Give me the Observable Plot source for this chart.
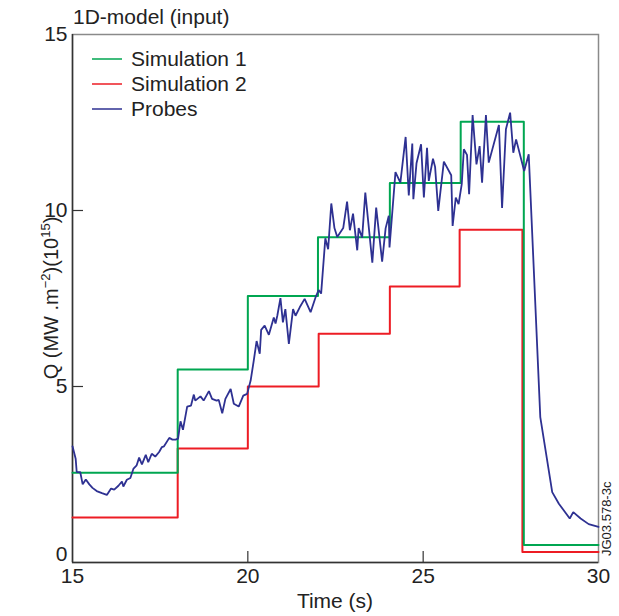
<!DOCTYPE html>
<html><head><meta charset="utf-8">
<script src="https://cdn.jsdelivr.net/npm/d3@7"></script>
<script src="https://cdn.jsdelivr.net/npm/@observablehq/plot@0.6"></script>
<style>body{margin:0;background:#fff}svg{display:block}</style>
</head><body><div id="chart"></div>
<script>
// ---- data ----
const sim1Times = [15, 18, 20, 22, 24.05, 26.07, 27.87, 30];
const sim1Values = [2.55, 5.48, 7.57, 9.24, 10.78, 12.52, 0.5, 0.5];
const sim2Times = [15, 18, 20, 22.02, 24.05, 26.04, 27.83, 30];
const sim2Values = [1.28, 3.24, 5.0, 6.5, 7.84, 9.45, 0.3, 0.3];
const probeTimes = [15.00,15.09,15.12,15.22,15.29,15.38,15.48,15.57,15.69,15.84,15.98,16.10,16.19,16.31,16.41,16.45,16.55,16.65,16.74,16.83,16.90,16.98,17.09,17.16,17.26,17.36,17.47,17.55,17.61,17.76,17.85,17.94,18.01,18.08,18.15,18.27,18.38,18.46,18.50,18.65,18.74,18.89,18.98,19.11,19.17,19.27,19.36,19.51,19.60,19.74,19.87,19.98,20.08,20.17,20.25,20.34,20.38,20.48,20.60,20.74,20.79,20.84,20.93,21.00,21.07,21.17,21.29,21.36,21.48,21.62,21.79,21.93,22.02,22.09,22.21,22.29,22.38,22.47,22.55,22.72,22.83,22.91,23.00,23.12,23.16,23.26,23.35,23.55,23.66,23.83,23.93,24.02,24.04,24.21,24.35,24.50,24.59,24.69,24.72,24.81,24.94,25.02,25.11,25.16,25.28,25.34,25.43,25.59,25.80,25.84,25.93,26.01,26.10,26.16,26.25,26.31,26.41,26.52,26.61,26.68,26.79,26.87,27.16,27.25,27.36,27.48,27.57,27.65,27.88,28.01,28.34,28.68,28.87,29.18,29.28,29.49,29.72,30.00];
const probeValues = [3.30,2.95,2.57,2.57,2.22,2.36,2.22,2.12,2.03,1.97,1.92,2.10,2.07,2.18,2.30,2.16,2.35,2.40,2.67,2.76,2.98,2.79,3.06,2.85,3.09,3.01,3.14,3.28,3.30,3.54,3.49,3.49,3.52,4.01,3.77,4.43,4.46,4.77,4.60,4.72,4.60,4.87,4.65,4.60,4.62,4.24,4.65,4.93,4.51,4.43,4.74,4.79,5.17,5.74,6.29,5.93,6.61,6.73,6.47,6.96,6.79,7.01,7.51,6.82,7.20,6.21,7.20,7.01,7.25,7.49,7.11,7.53,7.74,7.64,9.21,8.90,10.20,9.50,9.25,9.50,10.25,9.44,9.91,8.87,9.50,9.23,10.51,8.52,10.08,8.55,9.50,9.85,8.95,11.09,10.79,12.09,10.43,11.90,10.32,11.34,11.88,10.37,11.78,10.84,11.47,11.24,9.99,11.39,11.00,9.56,10.37,10.18,10.75,11.74,11.58,10.46,12.71,11.31,11.83,10.79,12.71,11.36,12.43,10.07,12.31,12.78,11.64,12.02,11.12,11.60,4.13,2.00,1.67,1.25,1.43,1.25,1.09,1.01];
const xTicks = [15, 20, 25, 30];
const yTicks = [0, 5, 10, 15];
const seriesNames = ["Simulation 1", "Simulation 2", "Probes"];
const seriesColors = ["#00a651", "#ed1c24", "#2e3192"];

// ---- build ----
const W = 619, H = 616, mL = 72, mR = 21, mT = 34, mB = 54;
const pw = W - mL - mR, ph = H - mT - mB;
const toRows = (ts, vs) => ts.map((t, i) => ({t, v: vs[i]}));
const sim1 = toRows(sim1Times, sim1Values);
const sim2 = toRows(sim2Times, sim2Values);
const probes = toRows(probeTimes, probeValues);
const font = "'Liberation Sans', Arial, Helvetica, sans-serif";
const fs = 21;

const chart = Plot.plot({
  width: W, height: H,
  marginLeft: mL, marginRight: mR, marginTop: mT, marginBottom: mB,
  style: {fontFamily: font, fontSize: fs + "px", color: "#222", background: "#fff"},
  x: {domain: [15, 30]},
  y: {domain: [0, 15]},
  marks: [
    Plot.frame({stroke: "#8a8a8a", strokeWidth: 1.5}),
    Plot.ruleX([15], {stroke: "#333", strokeWidth: 1.5}),
    Plot.ruleY([0], {stroke: "#333", strokeWidth: 1.5}),
    Plot.ruleX(xTicks.slice(1, -1), {stroke: "#333", strokeWidth: 1.2, insetTop: ph - 11}),
    Plot.ruleY(yTicks.slice(1, -1), {stroke: "#333", strokeWidth: 1.2, insetRight: pw - 11}),
    Plot.line(sim2, {x: "t", y: "v", curve: "step-after", stroke: seriesColors[1], strokeWidth: 2}),
    Plot.line(sim1, {x: "t", y: "v", curve: "step-after", stroke: seriesColors[0], strokeWidth: 2}),
    Plot.line(probes, {x: "t", y: "v", stroke: seriesColors[2], strokeWidth: 1.8, strokeLinejoin: "miter"}),
    Plot.axisX(xTicks, {tickSize: 0, tickPadding: 6, label: null, fontSize: fs}),
    Plot.axisY(yTicks.slice(1), {tickSize: 0, tickPadding: 5, label: null, fontSize: fs}),
    Plot.axisY(yTicks.slice(0, 1), {tickSize: 0, tickPadding: 5, label: null, fontSize: fs, dy: -8})
  ]
});
document.getElementById("chart").appendChild(chart);

const svg = d3.select(chart);
// title
svg.append("text").attr("x", 73).attr("y", 24).attr("text-anchor", "start")
  .attr("font-size", fs).attr("fill", "#222").text("1D-model (input)");
// x label
svg.append("text").attr("x", mL + pw / 2).attr("y", 608).attr("text-anchor", "middle")
  .attr("font-size", fs).attr("fill", "#222").text("Time (s)");
// y label
const yl = svg.append("text").attr("transform", `translate(58,${mT + ph / 2}) rotate(-90)`)
  .attr("text-anchor", "middle").attr("font-size", 20).attr("fill", "#222");
yl.append("tspan").text("Q (MW .m");
yl.append("tspan").attr("dy", -8).attr("font-size", 13).text("\u2212" + "2");
yl.append("tspan").attr("dy", 8).text(")(10");
yl.append("tspan").attr("dy", -8).attr("font-size", 13).text("15");
yl.append("tspan").attr("dy", 8).text(")");
// id label
svg.append("text").attr("transform", "translate(611,556) rotate(-90)").attr("text-anchor", "start")
  .attr("font-size", 13).attr("fill", "#222").text("JG03.578-3c");
// legend
seriesNames.forEach((name, i) => {
  const y = 59 + i * 25;
  svg.append("line").attr("x1", 92).attr("x2", 122).attr("y1", y).attr("y2", y)
    .attr("stroke", seriesColors[i]).attr("stroke-width", 1.5);
  svg.append("text").attr("x", 131).attr("y", y).attr("dy", "0.35em").attr("text-anchor", "start")
    .attr("font-size", fs).attr("fill", "#222").text(name);
});
</script></body></html>
